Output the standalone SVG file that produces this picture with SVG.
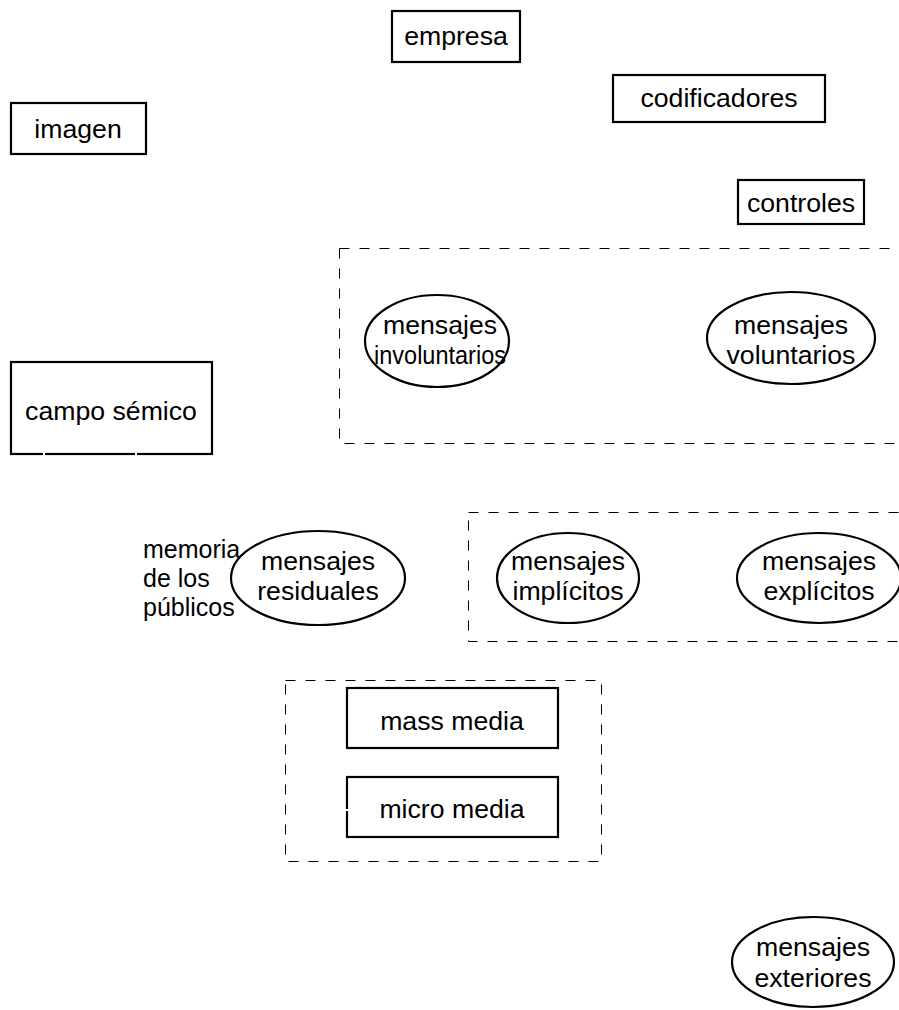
<svg xmlns="http://www.w3.org/2000/svg" width="899" height="1010" viewBox="0 0 899 1010">
<style>
text{font-family:"Liberation Sans",Arial,sans-serif;font-size:26.67px;fill:#000;text-anchor:middle}
.mem{font-size:25px;text-anchor:start}
.box{fill:#fff;stroke:#000;stroke-width:2.2}
.ell{fill:#fff;stroke:#000;stroke-width:2.2}
.grp{fill:none;stroke:#000;stroke-width:1;stroke-dasharray:10 10}
.con{fill:none;stroke:#fff;stroke-width:2}
</style>
<rect width="899" height="1010" fill="#fff"/>
<g id="groups">
<rect id="g-mensajes" class="grp" x="339.5" y="248.5" width="580" height="195"/>
<rect id="g-implicitos" class="grp" x="468.5" y="512.5" width="450" height="129"/>
<rect id="g-media" class="grp" x="285.5" y="680.5" width="316" height="181"/>
</g>
<g id="empresa"><rect class="box" x="392" y="11" width="128" height="51"/><text x="456" y="45">empresa</text></g>
<g id="codificadores"><rect class="box" x="613" y="75" width="212" height="47"/><text x="719" y="107">codificadores</text></g>
<g id="imagen"><rect class="box" x="11" y="103" width="135" height="51"/><text x="78" y="138">imagen</text></g>
<g id="controles"><rect class="box" x="738" y="180" width="126" height="44"/><text x="801" y="212">controles</text></g>
<g id="involuntarios"><ellipse class="ell" cx="437" cy="341" rx="72" ry="46"/><text x="440" y="334">mensajes</text><text x="440" y="364" textLength="132" lengthAdjust="spacingAndGlyphs">involuntarios</text></g>
<g id="voluntarios"><ellipse class="ell" cx="791" cy="338" rx="84" ry="46"/><text x="791" y="334">mensajes</text><text x="791" y="364">voluntarios</text></g>
<g id="campo"><rect class="box" x="11" y="362" width="201" height="92"/><text x="111" y="420">campo sémico</text></g>
<g id="memoria"><text class="mem" x="143" y="558">memoria</text><text class="mem" x="143" y="587">de los</text><text class="mem" x="143" y="616">públicos</text></g>
<g id="residuales"><ellipse class="ell" cx="318" cy="578" rx="87" ry="47"/><text x="318" y="570">mensajes</text><text x="318" y="600">residuales</text></g>
<g id="implicitos"><ellipse class="ell" cx="568" cy="578" rx="71" ry="45"/><text x="568" y="570">mensajes</text><text x="568" y="600">implícitos</text></g>
<g id="explicitos"><ellipse class="ell" cx="819" cy="578" rx="82" ry="45"/><text x="819" y="570">mensajes</text><text x="819" y="600">explícitos</text></g>
<g id="mass"><rect class="box" x="347" y="688" width="211" height="60"/><text x="452" y="730">mass media</text></g>
<g id="micro"><rect class="box" x="347" y="777" width="211" height="60"/><text x="452" y="818">micro media</text></g>
<g id="exteriores"><ellipse class="ell" cx="813" cy="962" rx="81" ry="45"/><text x="813" y="956">mensajes</text><text x="813" y="987">exteriores</text></g>
<g id="connectors">
<path class="con" d="M44,450 L44,470"/>
<path class="con" d="M136,450 L136,470"/>
<path class="con" d="M43,595 L197,777"/>
<path class="con" d="M340,810 L354,810"/>
</g>
</svg>
